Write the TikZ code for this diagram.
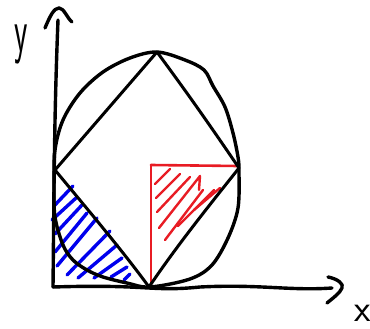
\documentclass[tikz,border=0pt]{standalone}
\usepackage{graphicx}
\definecolor{hred}{RGB}{232,28,36}
\definecolor{hblue}{RGB}{0,0,238}
\begin{document}
\begin{tikzpicture}[x=1pt,y=-1pt,
  blk/.style={line width=3.4pt,line cap=round,line join=round,black},
  thin blk/.style={line width=3pt,line cap=round,line join=round,black},
  bluehatch/.style={line width=3.4pt,line cap=round,hblue},
  redline/.style={line width=2.6pt,line cap=round,line join=round,hred},
  redhatch/.style={line width=2.4pt,line cap=round,line join=round,hred},
  lab/.style={inner sep=0pt,font=\sffamily}]
\useasboundingbox (0,0) rectangle (370,329);
% named points
\coordinate (O) at (53,287);
\coordinate (Ytop) at (58,20);
\coordinate (Xend) at (332,288);
\coordinate (T) at (157,52);
\coordinate (R) at (239,168);
\coordinate (B) at (149,287);
\coordinate (L) at (55,170);
\coordinate (RTL) at (151,165);
\coordinate (RTR) at (238,166);
\coordinate (RBL) at (151,284);
% blue hatching
\foreach \a/\b in {{(54,206)}/{(73,186)}, {(52,220)}/{(76,198)}, {(55,234)}/{(82,205)},
  {(55,252)}/{(87,213)}, {(57,266)}/{(97,218)}, {(67,275)}/{(110,231)},
  {(78,278)}/{(117,245)}, {(94,278)}/{(122,258)}, {(111,277)}/{(127,267)},
  {(124,280)}/{(130,274)}}
  \draw[bluehatch] \a -- \b;
% red hatching
\draw[redhatch] (155,184) -- (170,169);
\draw[redhatch] (156,198) -- (180,174);
\draw[redhatch] (157,212) -- (190,177);
\draw[redhatch] (159,228) -- (200,176) -- (199,190);
\draw[redhatch] (165,240) -- (203,190);
\draw[redhatch] (178,226) -- (214,190);
\draw[redhatch] (194,210) -- (220,188);
% red triangle sides
\draw[redline] (RTL) -- (RTR);
\draw[redline] (RTL) -- (RBL);
% ellipse (hand drawn)
\draw[blk] plot[smooth cycle, tension=0.55] coordinates {(157,52) (185,60) (204,70) (213,86)
  (225,107) (233,133) (238,157) (239,172) (238,208) (228,238) (212,265) (190,279)
  (150,287) (127,283) (103,277) (87,270) (73,260) (63,245) (55,217) (54,185) (55,150)
  (63,120) (80,93) (103,72) (130,58)};
% diamond
\draw[thin blk] (L) -- (T);
\draw[thin blk] (T) .. controls (185,90) and (205,118) .. (R);
\draw[thin blk] (R) .. controls (212,202) and (178,244) .. (B);
\draw[thin blk] (L) .. controls (88,210) and (122,250) .. (B);
% axes
\draw[blk] (O) .. controls (54,200) and (54,120) .. (Ytop);
\draw[blk] (O) .. controls (150,284) and (150,292) .. (200,287) .. controls (260,284) and (290,291) .. (Xend);
\draw[blk] (45,28) .. controls (50,16) and (54,8) .. (59,8) .. controls (64,8) and (67,18) .. (72,22);
\draw[blk] (328,277) .. controls (338,279) and (344,284) .. (342,288) .. controls (340,293) and (333,298) .. (327,303);
% labels
\node[lab] (ylab) at (21,44) {\scalebox{0.5}[1]{\fontsize{62}{66}\selectfont y}};
\node[lab] (xlab) at (363,313) {\fontsize{38}{40}\selectfont x};
\end{tikzpicture}
\end{document}
